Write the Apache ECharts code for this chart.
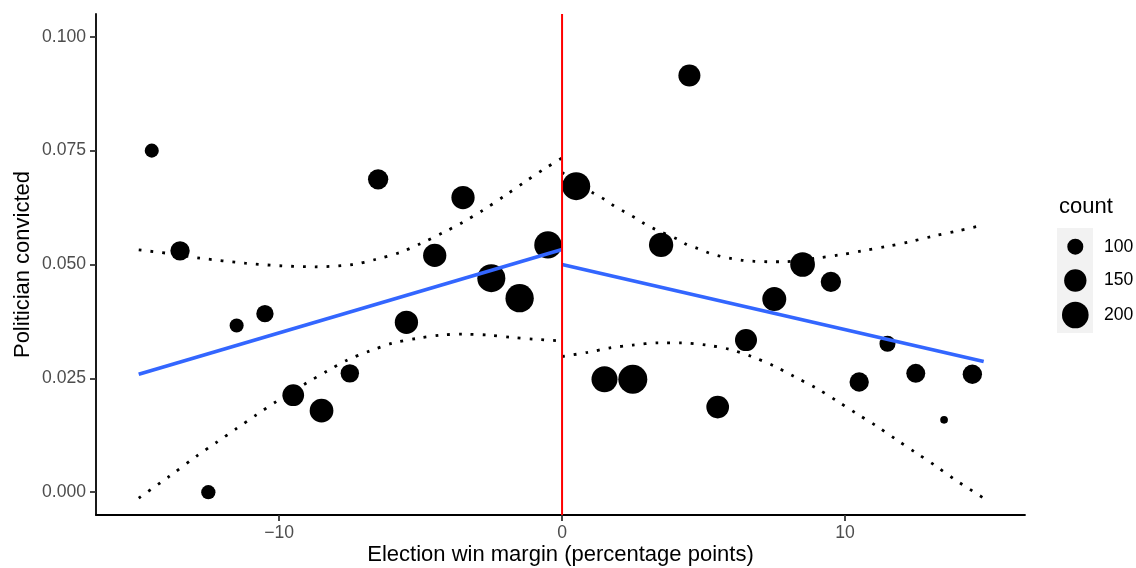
<!DOCTYPE html>
<html>
<head>
<meta charset="utf-8">
<script src="https://cdn.jsdelivr.net/npm/echarts@6/dist/echarts.min.js"></script>
<style>
html,body{margin:0;padding:0;background:#fff;}
#chart{width:1136px;height:568px;}
</style>
</head>
<body>
<div id="chart"></div>
<script>
// ---------- data ----------
const binCenters = [-14.5,-13.5,-12.5,-11.5,-10.5,-9.5,-8.5,-7.5,-6.5,-5.5,-4.5,-3.5,-2.5,-1.5,-0.5,
                    0.5,1.5,2.5,3.5,4.5,5.5,6.5,7.5,8.5,9.5,10.5,11.5,12.5,13.5,14.5];
const convictedRate = [0.0750,0.0530,0.0000,0.0366,0.0392,0.0213,0.0179,0.0261,0.0687,0.0373,0.0520,0.0647,0.0470,0.0426,0.0543,
                       0.0672,0.0248,0.0248,0.0543,0.0915,0.0187,0.0334,0.0424,0.0500,0.0462,0.0242,0.0326,0.0261,0.0159,0.0259];
const counts = [90,123,91,90,108,144,165,116,131,160,160,160,219,223,209,
                219,192,233,171,147,154,147,168,176,131,123,100,120,76,123];

const fitLeftX = [-14.96, 0];
const fitLeftY = [0.0259, 0.0533];
const fitRightX = [0, 14.9];
const fitRightY = [0.0500, 0.0287];

const ciUpperLeft = [[-14.96,0.0532],[-14,0.0525],[-12.8,0.0514],[-11.2,0.0503],[-9.9,0.0497],[-8.7,0.0495],[-7.4,0.0500],[-6.6,0.0511],[-5.7,0.0527],[-5.0,0.0546],[-4.2,0.0570],[-3.5,0.0593],[-2.8,0.0619],[-2.0,0.0652],[-1.3,0.0682],[-0.6,0.0711],[0,0.0734]];
const ciLowerLeft = [[-14.96,-0.0013],[-13.9,0.0034],[-12.9,0.0080],[-12.2,0.0110],[-11.5,0.0140],[-10.8,0.0170],[-10.1,0.0199],[-9.0,0.0241],[-8.3,0.0266],[-7.6,0.0290],[-6.8,0.0310],[-6.0,0.0327],[-5.1,0.0338],[-4.3,0.0345],[-3.5,0.0347],[-2.6,0.0345],[-1.8,0.0340],[-1.0,0.0336],[0,0.0332]];
const ciUpperRight = [[0,0.0702],[1.1,0.0657],[1.5,0.0643],[1.8,0.0630],[2.2,0.0616],[2.6,0.0602],[2.9,0.0590],[3.3,0.0577],[4.1,0.0555],[4.4,0.0544],[4.8,0.0535],[5.2,0.0525],[5.6,0.0518],[6.0,0.0513],[6.4,0.0509],[6.8,0.0507],[7.3,0.0506],[7.8,0.0506],[9.0,0.0514],[9.8,0.0521],[10.6,0.0530],[11.5,0.0540],[12.3,0.0550],[13.1,0.0562],[14.0,0.0574],[14.9,0.0587]];
const ciLowerRight = [[0,0.0298],[0.9,0.0307],[1.7,0.0317],[2.5,0.0323],[3.4,0.0328],[4.2,0.0328],[5.1,0.0323],[5.9,0.0314],[6.7,0.0298],[7.5,0.0277],[8.2,0.0254],[9.0,0.0228],[9.7,0.0201],[10.4,0.0173],[11.1,0.0146],[11.8,0.0116],[12.5,0.0087],[13.2,0.0058],[13.9,0.0027],[14.9,-0.0013]];

const cutoffX = 0;

const xTickValues = [-10, 0, 10];
const xTickLabels = ['\u221210', '0', '10'];
const yTickValues = [0, 0.025, 0.05, 0.075, 0.1];
const yTickLabels = ['0.000', '0.025', '0.050', '0.075', '0.100'];

const sizeLegendValues = [100, 150, 200];
const sizeLegendLabels = ['100', '150', '200'];

const xLabel = 'Election win margin (percentage points)';
const yLabel = 'Politician convicted';
const sizeTitle = 'count';

// ---------- layout / style ----------
const X_MIN = -16.47, X_MAX = 16.36, Y_MIN = -0.005, Y_MAX = 0.105;
const FONT = "'Liberation Sans', Arial, Helvetica, sans-serif";

function pointDiameter(c) {
  return 7.7 + 1.7 * Math.sqrt(Math.max(c - 76, 0));
}
function labelFor(values, labels, v) {
  const i = values.findIndex(t => Math.abs(t - v) < 1e-9);
  return i >= 0 ? labels[i] : '';
}

const scatterData = binCenters.map((x, i) => [x, convictedRate[i], counts[i]]);
const dotted = {type: [2.8, 9], width: 2.8, color: '#000', cap: 'butt'};

function ciSeries(data) {
  return {type: 'line', data: data, showSymbol: false, symbol: 'none', smooth: 0.3,
          lineStyle: dotted, z: 2, silent: true, animation: false};
}

const chart = echarts.init(document.getElementById('chart'), null, {renderer: 'canvas'});

const legendGraphics = [];
const legendCY = [246.7, 280.5, 315];
legendGraphics.push({type: 'rect', left: 1057, top: 228, shape: {width: 36, height: 105}, style: {fill: '#F2F2F2'}, silent: true});
legendGraphics.push({type: 'text', left: 1059, top: 196, style: {text: sizeTitle, font: '22px ' + FONT, fill: '#000'}});
sizeLegendValues.forEach((v, i) => {
  legendGraphics.push({type: 'circle', shape: {cx: 1075.3, cy: legendCY[i], r: pointDiameter(v) / 2}, style: {fill: '#000'}, silent: true});
  legendGraphics.push({type: 'text', x: 1104, y: legendCY[i], style: {text: sizeLegendLabels[i], font: '17.6px ' + FONT, fill: '#000', verticalAlign: 'middle', textVerticalAlign: 'middle'}});
});

const option = {
  animation: false,
  backgroundColor: '#fff',
  grid: {left: 96, right: 111, top: 14, bottom: 53, containLabel: false, outerBoundsMode: 'none'},
  xAxis: {
    type: 'value', min: X_MIN, max: X_MAX,
    name: xLabel, nameLocation: 'middle', nameGap: 29, nameMoveOverlap: false,
    nameTextStyle: {fontSize: 22, color: '#000', fontFamily: FONT},
    axisLine: {show: true, onZero: false, lineStyle: {color: '#000', width: 1.8}},
    axisTick: {show: true, length: 6, customValues: xTickValues, lineStyle: {color: '#333', width: 1.8}},
    axisLabel: {customValues: xTickValues, margin: 9, fontSize: 17.6, color: '#4D4D4D', fontFamily: FONT,
                formatter: v => labelFor(xTickValues, xTickLabels, v)},
    splitLine: {show: false}
  },
  yAxis: {
    type: 'value', min: Y_MIN, max: Y_MAX,
    name: yLabel, nameLocation: 'middle', nameGap: 62, nameMoveOverlap: false,
    nameTextStyle: {fontSize: 22, color: '#000', fontFamily: FONT},
    axisLine: {show: true, onZero: false, lineStyle: {color: '#000', width: 1.8}},
    axisTick: {show: true, length: 6, customValues: yTickValues, lineStyle: {color: '#333', width: 1.8}},
    axisLabel: {customValues: yTickValues, margin: 10, fontSize: 17.6, color: '#4D4D4D', fontFamily: FONT,
                formatter: v => labelFor(yTickValues, yTickLabels, v)},
    splitLine: {show: false}
  },
  series: [
    ciSeries(ciUpperLeft), ciSeries(ciLowerLeft), ciSeries(ciUpperRight), ciSeries(ciLowerRight),
    {
      type: 'scatter', data: scatterData, z: 3,
      symbolSize: v => pointDiameter(v[2]),
      itemStyle: {color: '#000', opacity: 1, borderWidth: 0},
      emphasis: {disabled: true}, silent: true
    },
    {type: 'line', data: fitLeftX.map((x, i) => [x, fitLeftY[i]]), symbol: 'none', z: 4, silent: true,
     lineStyle: {color: '#3366FF', width: 3.8}},
    {type: 'line', data: fitRightX.map((x, i) => [x, fitRightY[i]]), symbol: 'none', z: 4, silent: true,
     lineStyle: {color: '#3366FF', width: 3.8}},
    {type: 'line', data: [[cutoffX, Y_MIN], [cutoffX, Y_MAX]], symbol: 'none', z: 5, silent: true,
     lineStyle: {color: '#FF0000', width: 2}}
  ],
  graphic: legendGraphics
};
chart.setOption(option);
</script>
</body>
</html>
